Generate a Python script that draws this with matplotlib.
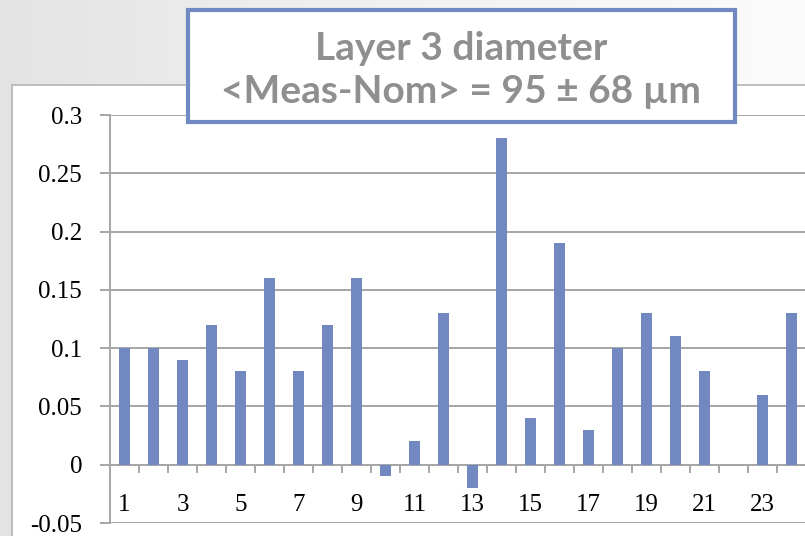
import numpy as np
import matplotlib.pyplot as plt
from matplotlib.patches import Rectangle

# measured minus nominal, layer 3 diameter (mm)
points = list(range(1, 25))
diff = [0.10, 0.10, 0.09, 0.12, 0.08, 0.16, 0.08, 0.12, 0.16, -0.01, 0.02, 0.13,
        -0.02, 0.28, 0.04, 0.19, 0.03, 0.10, 0.13, 0.11, 0.08, 0.0, 0.06, 0.13]
yticks = [-0.05, 0, 0.05, 0.1, 0.15, 0.2, 0.25, 0.3]
ytick_labels = ['-0.05', '0', '0.05', '0.1', '0.15', '0.2', '0.25', '0.3']
title_lines = ['Layer 3 diameter', '<Meas-Nom> = 95 \u00b1 68 \u00b5m']

bar_col = '#7189c0'
grid_col = '#a6a6a6'

fig = plt.figure(figsize=(8.05, 5.36), dpi=100)

# slide background: soft grey gradient fading to white
bg = fig.add_axes([0, 0, 1, 1], zorder=-10)
grad = np.linspace(0, 1, 256)[None, :]
bg.imshow(grad, aspect='auto', cmap='Greys_r', vmin=-5, vmax=1.2, extent=[0, 1, 0, 1])
bg.set_axis_off()

# white chart frame
fig.patches.append(Rectangle((12 / 805, -0.1), 1.0, 1 - 85 / 536 + 0.1,
                             transform=fig.transFigure, facecolor='white',
                             edgecolor='#b4b4b4', lw=1.2, zorder=-5))

ax = fig.add_axes([110 / 805, 1 - 523 / 536, 696 / 805, (523 - 115) / 536])
ax.set_facecolor('none')
ax.bar(points, diff, width=0.4, color=bar_col, zorder=3)

ax.set_xlim(0.5, 24.5)
ax.set_ylim(-0.05, 0.3)
ax.set_yticks(yticks, ytick_labels)
ax.yaxis.grid(True, color=grid_col, lw=1.4)
ax.set_axisbelow(True)

for s in ['top', 'right']:
    ax.spines[s].set_visible(False)
ax.spines['left'].set_color(grid_col)
ax.spines['left'].set_linewidth(1.4)
ax.spines['bottom'].set_position(('data', 0))
ax.spines['bottom'].set_color(grid_col)
ax.spines['bottom'].set_linewidth(1.4)

ax.set_xticks(points[::2], [str(p) for p in points[::2]])
ax.set_xticks(np.arange(0.5, 25, 1), minor=True)
ax.tick_params(axis='both', which='major', labelsize=18, labelfontfamily='Liberation Serif')
ax.tick_params(axis='x', which='major', length=0, pad=21)
ax.tick_params(axis='x', which='minor', length=6, width=1.4, color=grid_col, direction='out')
ax.tick_params(axis='y', length=7, width=1.4, color=grid_col, pad=13)

# title box
fig.patches.append(Rectangle((188 / 805, 1 - 122 / 536), (735 - 188) / 805, (122 - 10) / 536,
                             transform=fig.transFigure, facecolor='white',
                             edgecolor='#7089c0', lw=3, zorder=10))
fig.text(461 / 805, 1 - 48 / 536, title_lines[0], ha='center', va='center',
         fontsize=28, fontweight='bold', color='#8f8f8f', family='Lato', zorder=11)
fig.text(461 / 805, 1 - 92 / 536, title_lines[1], ha='center', va='center',
         fontsize=28, fontweight='bold', color='#8f8f8f', family='Lato', zorder=11)

fig.savefig('out.png', dpi=100)
